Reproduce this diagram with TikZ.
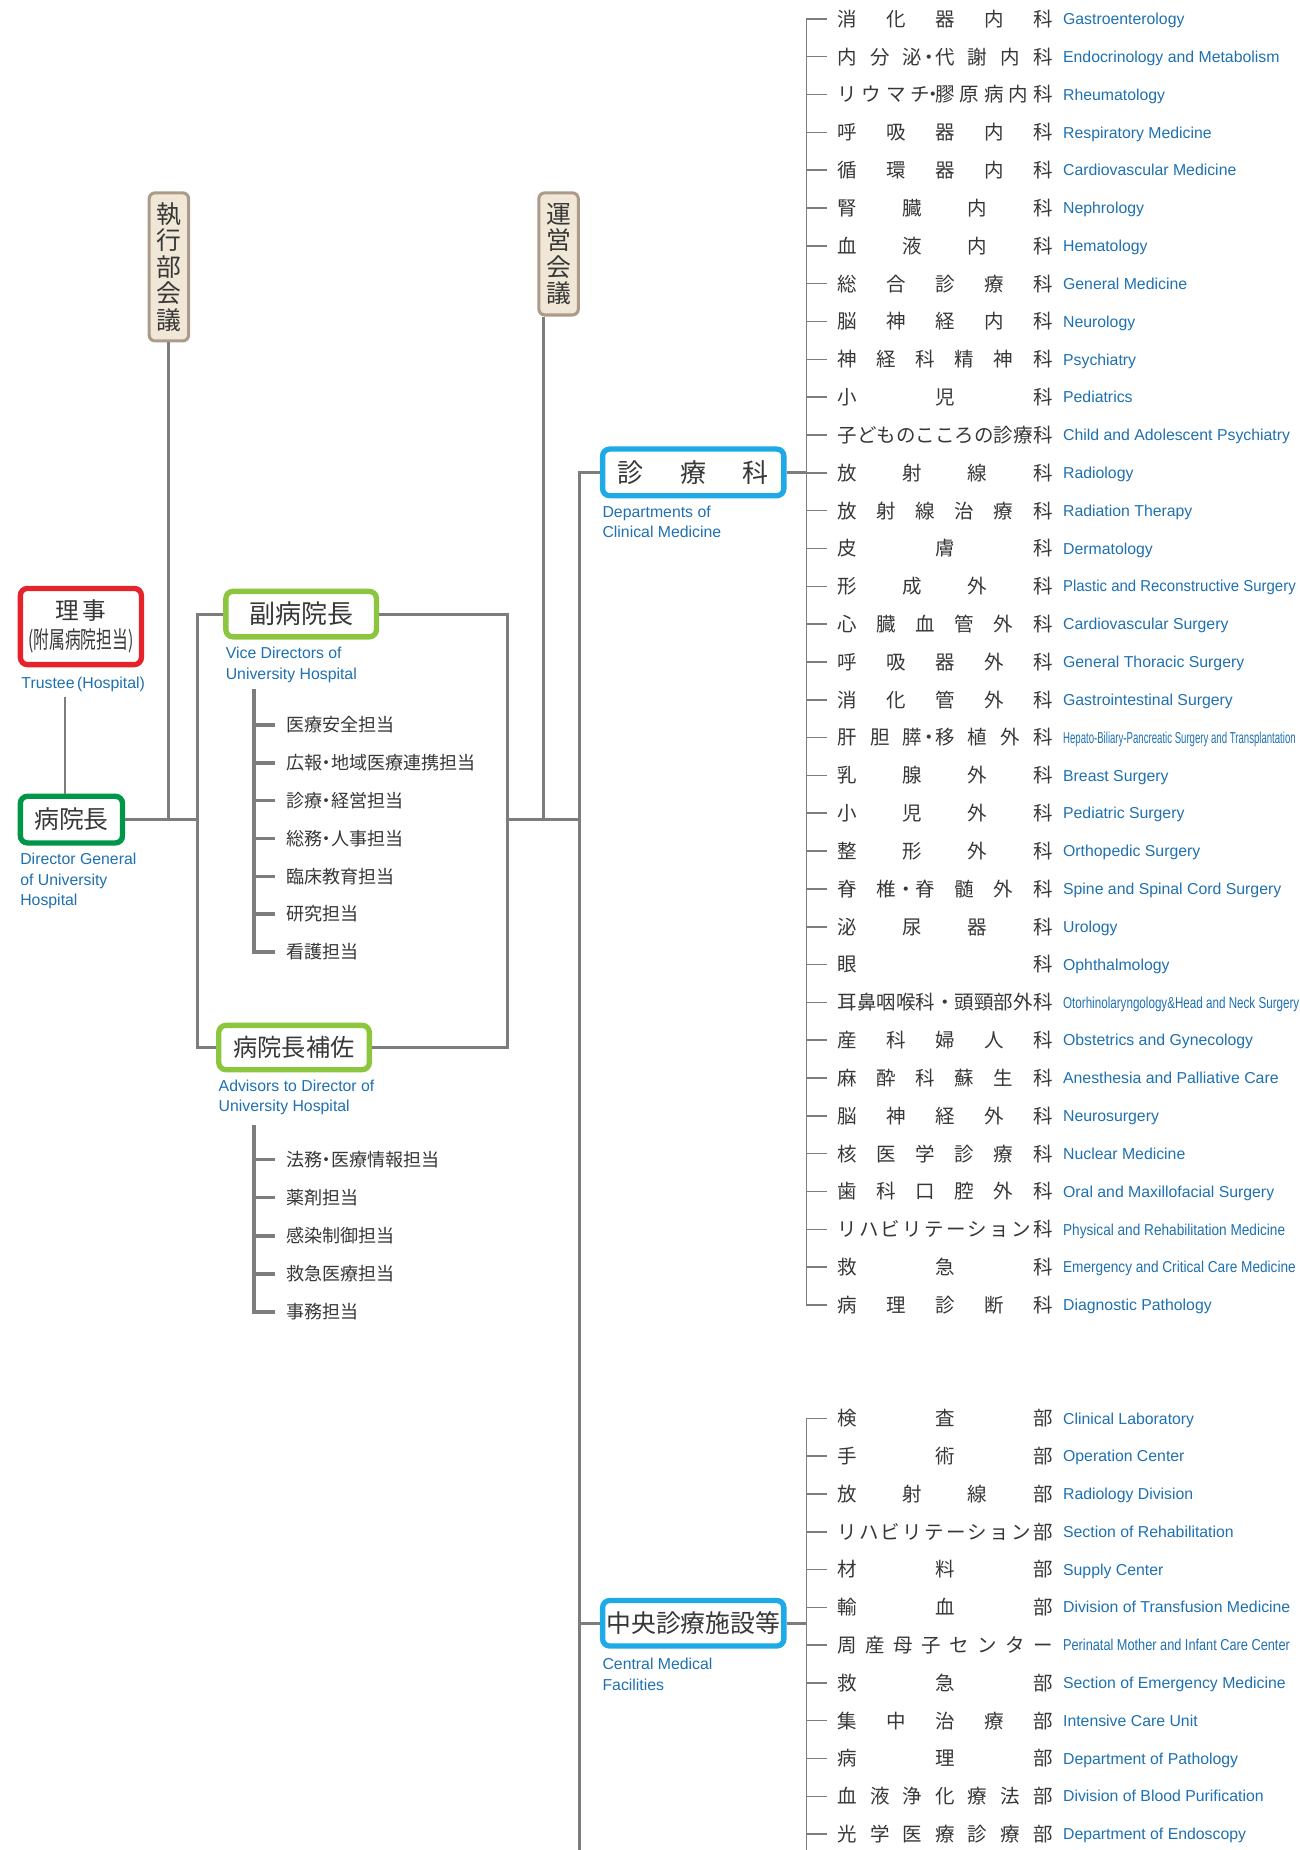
\documentclass[tikz,border=0pt]{standalone}
\usepackage{fontspec}
\usepackage{graphicx}
\setmainfont{Liberation Sans}
\newfontfamily\jfont{Noto Sans CJK JP}
\newfontfamily\jfontp[RawFeature=+palt]{Noto Sans CJK JP}
\usetikzlibrary{positioning}

\definecolor{linegray}{RGB}{125,125,125}
\definecolor{jpgray}{RGB}{55,55,55}
\definecolor{enblue}{RGB}{30,112,176}
\definecolor{postfill}{RGB}{240,231,215}
\definecolor{postedge}{RGB}{172,155,138}
\definecolor{trred}{RGB}{228,35,42}
\definecolor{hdgreen}{RGB}{0,150,72}
\definecolor{vclime}{RGB}{140,198,63}
\definecolor{dpcyan}{RGB}{30,170,230}

% spread the characters of a department name over a fixed width
\newlength\deptw \setlength\deptw{182pt}
\def\jspread#1{\hbox to \deptw{\jspA#1\jspEnd}}
\def\jspA#1#2\jspEnd{#1\ifx\relax#2\relax\else\hfill\jspA#2\jspEnd\fi}
% a middle dot sitting inside one gap
\newcommand\jdot{\hskip0pt plus .5fill\makebox[0pt]{・}\hskip0pt plus .5fill}
% condensed English names
\newcommand\squeeze[2]{\resizebox{#1pt}{\height}{#2}}

\begin{document}
\begin{tikzpicture}[x=1pt,y=1pt,
  conn/.style={draw=linegray, line width=2.4pt},
  tick/.style={draw=linegray, line width=1.3pt},
  spine/.style={draw=linegray, line width=2.8pt},
  post/.style={draw=postedge, fill=postfill, line width=2.6pt, rounded corners=5pt,
    inner sep=0pt, minimum width=33.4pt, align=center, text=jpgray,
    font=\fontsize{21}{22.5}\jfont},
  role/.style={fill=white, line width=4.5pt, rounded corners=6pt, inner sep=0pt,
    text=jpgray, font=\fontsize{21}{23}\jfont},
  note/.style={anchor=north west, inner sep=0pt, align=left, text=enblue,
    font=\fontsize{13.4}{17.5}\selectfont},
  dept/.style={anchor=west, inner xsep=9pt, inner ysep=0pt, text height=14.5pt,
    text depth=2pt, text=jpgray, font=\fontsize{16.5}{18}\jfont},
  deptname/.style={anchor=west, inner sep=0pt, text height=9.6pt, text depth=0pt,
    text=enblue, font=\fontsize{13.4}{16}\selectfont},
  duty/.style={anchor=west, inner xsep=9pt, inner ysep=0pt, text height=13.4pt,
    text depth=1.8pt, text=jpgray, font=\fontsize{15.3}{17}\jfontp},
]
\useasboundingbox (0,0) rectangle (1100,-1566.5);

% councils
\node[post, minimum height=125.4pt] (exec) at (143,-226) {執\\行\\部\\会\\議};
\node[post, minimum height=103.4pt] (mgmt) at (473,-215) {運\\営\\会\\議};

% left side
\node[role, draw=trred, minimum width=102.5pt, minimum height=64.5pt, align=center,
  font=\fontsize{20}{25}\jfont] (trustee) at (68.5,-530.5)
  {理\,事\\\resizebox{89pt}{\height}{(附属病院担当)}};
\node[note] (trlab) at (18,-573) {Trustee\,(Hospital)};
\node[role, draw=hdgreen, minimum width=86.5pt, minimum height=39.5pt] (hosp) at (60.5,-694) {病院長};
\node[note] at (17,-722) {Director General\\of University\\Hospital};

\node[role, draw=vclime, minimum width=127.5pt, minimum height=38.5pt,
  font=\fontsize{22}{23}\jfont] (vice) at (255,-520) {副病院長};
\node[note] at (191,-548) {Vice Directors of\\University Hospital};
\node[role, draw=vclime, minimum width=127.5pt, minimum height=37.5pt,
  font=\fontsize{20.5}{23}\jfont] (adv) at (249,-887) {病院長補佐};
\node[note] at (185,-914) {Advisors to Director of\\University Hospital};

% departments boxes
\node[role, draw=dpcyan, minimum width=153.5pt, minimum height=39.5pt,
  font=\fontsize{22}{23}\jfont] (clin) at (587,-400) {診\hspace{1.4em}療\hspace{1.4em}科};
\node[note] at (510,-428) {Departments of\\Clinical Medicine};
\node[role, draw=dpcyan, minimum width=153.5pt, minimum height=38.5pt] (cent) at (587,-1374.5) {中央診療施設等};
\node[note] at (510,-1404) {Central Medical\\Facilities};

% buses
\coordinate (busL) at (167,-694);
\coordinate (busR) at (430,-694);
\coordinate (trunk) at (491,-1566.5);
\coordinate (dspine) at (683,0);
\coordinate (cspine) at (683,-1566.5);
\coordinate[below=4pt of trlab.south] (trfoot);

\draw[conn] ([xshift=-5.5pt]hosp.north) -- ([xshift=-5.5pt]trfoot -| hosp.north);
\draw[conn] (hosp.east) -- (busL);
\draw[conn] (exec.south) -- (exec.south |- busL);
\draw[conn] (vice.west) -| (busL) |- (adv.west);
\draw[conn] (vice.east) -| (busR) |- (adv.east);
\draw[conn] ([xshift=-13pt]mgmt.south) -- ([xshift=-13pt]mgmt.south |- busR);
\draw[conn] (busR) -- (busR -| trunk);
\draw[conn] (clin.west) -| (trunk);
\draw[conn] (cent.west) -- (cent.west -| trunk);
\draw[conn] (clin.east) -- (clin.east -| dspine);
\draw[conn] (cent.east) -- (cent.east -| dspine);

% duties of the vice directors
\foreach \t [count=\k from 0] in {医療安全担当,広報・地域医療連携担当,診療・経営担当,
  総務・人事担当,臨床教育担当,研究担当,看護担当}
  \node[duty] (v\k) at (233,-614-32*\k) {\t};
\coordinate (vtop) at (215,-583);
\draw[spine] (vtop) |- (v6.west);
\foreach \k in {0,...,5}
  \draw[spine] (vtop |- v\k.west) -- (v\k.west);

% duties of the advisors
\foreach \t [count=\k from 0] in {法務・医療情報担当,薬剤担当,感染制御担当,救急医療担当,事務担当}
  \node[duty] (a\k) at (233,-982-32.25*\k) {\t};
\coordinate (atop) at (215,-953);
\draw[spine] (atop) |- (a4.west);
\foreach \k in {0,...,3}
  \draw[spine] (atop |- a\k.west) -- (a\k.west);

% departments of clinical medicine
\foreach \jp/\en [count=\k from 0] in {
  {消化器内科}/{Gastroenterology},
  {内分{泌\jdot{}代}謝内科}/{Endocrinology and Metabolism},
  {リウマ{チ\jdot{}膠}原病内科}/{Rheumatology},
  {呼吸器内科}/{Respiratory Medicine},
  {循環器内科}/{Cardiovascular Medicine},
  {腎臓内科}/{Nephrology},
  {血液内科}/{Hematology},
  {総合診療科}/{General Medicine},
  {脳神経内科}/{Neurology},
  {神経科精神科}/{Psychiatry},
  {小児科}/{Pediatrics},
  {子どものこころの診療科}/{Child and Adolescent Psychiatry},
  {放射線科}/{Radiology},
  {放射線治療科}/{Radiation Therapy},
  {皮膚科}/{Dermatology},
  {形成外科}/{\squeeze{197}{Plastic and Reconstructive Surgery}},
  {心臓血管外科}/{Cardiovascular Surgery},
  {呼吸器外科}/{General Thoracic Surgery},
  {消化管外科}/{Gastrointestinal Surgery},
  {肝胆{膵\jdot{}移}植外科}/{\squeeze{197}{Hepato-Biliary-Pancreatic Surgery and Transplantation}},
  {乳腺外科}/{Breast Surgery},
  {小児外科}/{Pediatric Surgery},
  {整形外科}/{Orthopedic Surgery},
  {脊{椎\jdot{}脊}髄外科}/{Spine and Spinal Cord Surgery},
  {泌尿器科}/{Urology},
  {眼科}/{Ophthalmology},
  {耳鼻咽喉科・頭頸部外科}/{\squeeze{200}{Otorhinolaryngology\&Head and Neck Surgery}},
  {産科婦人科}/{Obstetrics and Gynecology},
  {麻酔科蘇生科}/{Anesthesia and Palliative Care},
  {脳神経外科}/{Neurosurgery},
  {核医学診療科}/{Nuclear Medicine},
  {歯科口腔外科}/{Oral and Maxillofacial Surgery},
  {リハビリテーション科}/{\squeeze{188}{Physical and Rehabilitation Medicine}},
  {救急科}/{\squeeze{197}{Emergency and Critical Care Medicine}},
  {病理診断科}/{Diagnostic Pathology}}{
  \node[dept] (d\k) at (700,-16-32.03*\k) {\expandafter\jspread\expandafter{\jp}};
  \node[deptname] (e\k) at (900,-16-32.03*\k) {\en};
  \draw[tick] (dspine |- d\k.west) -- (d\k.west);
}
\draw[tick] (d0.west) -| (dspine |- d34.west) -- (d34.west);

% central medical facilities
\foreach \jp/\en [count=\k from 0] in {
  {検査部}/{Clinical Laboratory},
  {手術部}/{Operation Center},
  {放射線部}/{Radiology Division},
  {リハビリテーション部}/{Section of Rehabilitation},
  {材料部}/{Supply Center},
  {輸血部}/{Division of Transfusion Medicine},
  {周産母子センター}/{\squeeze{192}{Perinatal Mother and Infant Care Center}},
  {救急部}/{Section of Emergency Medicine},
  {集中治療部}/{Intensive Care Unit},
  {病理部}/{Department of Pathology},
  {血液浄化療法部}/{Division of Blood Purification},
  {光学医療診療部}/{Department of Endoscopy}}{
  \node[dept] (c\k) at (700,-1201-32*\k) {\expandafter\jspread\expandafter{\jp}};
  \node[deptname] (f\k) at (900,-1201-32*\k) {\en};
  \draw[tick] (cspine |- c\k.west) -- (c\k.west);
}
\draw[tick] (c0.west) -| (cspine);
\end{tikzpicture}
\end{document}
